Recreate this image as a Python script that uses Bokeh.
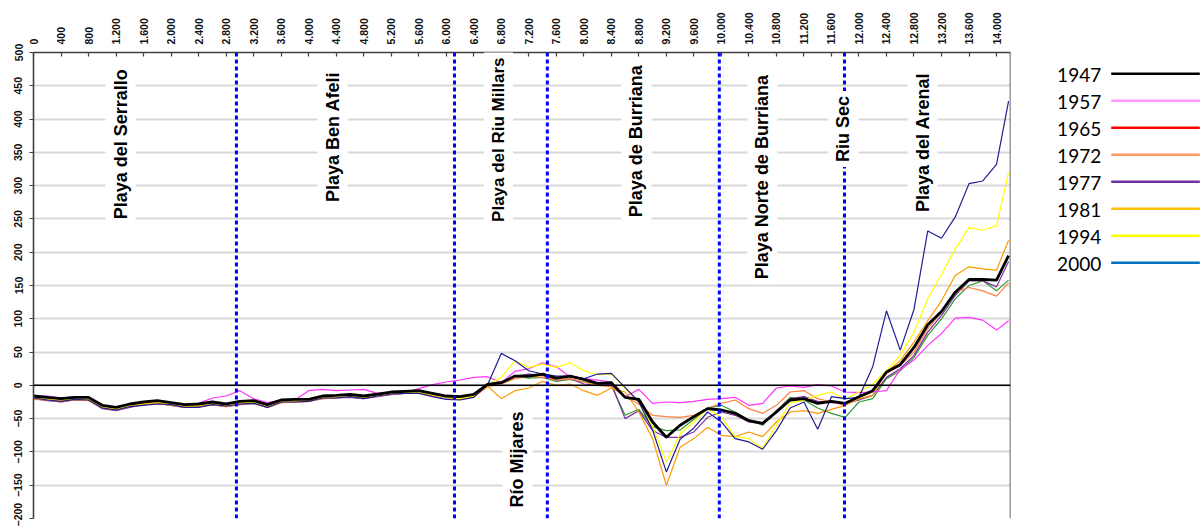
from bokeh.plotting import figure
from bokeh.models import Range1d, FixedTicker, Span, Label
from bokeh.layouts import row
from bokeh.embed import file_html
from bokeh.resources import INLINE
from bokeh.core.properties import value

# Distance along the coast (m) of each beach profile
dist = list(range(0, 14001, 200)) + [14175]

# Shoreline position change (m) per survey year
y1947 = [-16, -18, -20, -18, -18, -30, -33, -28, -25, -23, -26, -29, -28, -25, -28, -24, -23, -29, -22, -21,
         -21, -16, -15, -13.5, -16, -13, -10, -9, -8, -12,
         -16, -17, -13.5, 1.5, 4, 14, 14, 17, 11, 14, 9, 3, 4, -18,
         -21, -55, -78, -60, -47, -35, -37, -42, -53, -57, -40, -22, -20, -27, -24, -27, -17, -8,
         20, 31, 57, 91, 111, 140, 159, 159, 158, 195]
y1957 = [-16, -16, -19, -17, -20, -31, -34, -28, -26, -24, -27, -30, -27, -19, -16, -8, -20, -26, -22, -22,
         -8, -6, -8, -7, -6, -12, -11, -12, -5, 1,
         5, 8, 12, 13, 4, 21, 25, 34, 28, 13, 10, 8, 5, -17,
         -6, -27, -25, -26, -24, -21, -20, -18, -30, -27, -4, -1, -3, 1, -1, -10, -11, -10,
         -8, 24, 38, 60, 78, 101, 102, 98, 83, 97]
y1965 = [-20, -22, -24, -21, -22, -34, -36, -31, -28, -26, -29, -32, -32, -28, -31, -27, -26, -32, -25, -24,
         -23, -19, -18, -16, -19, -16, -12, -11, -11, -15,
         -18, -20, -16, 0, 4, 14, 11, 12, 6, 9, 5, 2, 0, -45,
         -36, -62, -68, -67, -51, -34, -30, -40, -52, -60, -38, -18, -22, -34, -42, -48, -25, -20,
         10, 22, 42, 75, 100, 130, 150, 157, 142, 158]
y1972 = [-21, -22, -25, -22, -23, -34, -37, -32, -29, -27, -30, -33, -32, -29, -32, -28, -27, -33, -26, -25,
         -24, -20, -19, -17, -19, -16, -13, -12, -11, -16,
         -18, -20, -17, -2, 2, 10, 14, 12, 8, 10, 5, 0, -2, -17,
         -28, -45, -47, -48, -45, -34, -27, -22, -35, -42, -30, -10, -8, -20, -25, -30, -18, -10,
         18, 30, 50, 85, 110, 140, 147, 142, 134, 154]
y1977 = [-20, -23, -25, -22, -22, -35, -38, -33, -29, -27, -30, -33, -32, -29, -32, -29, -27, -33, -26, -25,
         -24, -20, -19, -18, -20, -17, -14, -12, -11, -16,
         -19, -21, -17, 0, 3, 14, 17, 15, 8, 10, 2, 0, 2, -50,
         -38, -68, -78, -78, -70, -48, -40, -45, -55, -58, -38, -20, -17, -24, -26, -28, -22, -15,
         12, 25, 45, 80, 105, 135, 157, 157, 148, 186]
y1981 = [-19, -21, -23, -21, -21, -33, -36, -31, -28, -26, -29, -32, -31, -28, -31, -27, -26, -32, -25, -24,
         -23, -19, -18, -16, -19, -16, -13, -11, -10, -15,
         -18, -21, -17, -1, -20, -8, -4, 6, 0, 2, -8, -15, -4, -10,
         -40, -80, -150, -93, -80, -63, -75, -77, -70, -77, -55, -40, -38, -42, -36, -30, -20, -15,
         20, 37, 65, 97, 127, 165, 178, 175, 173, 218]
y1994 = [-18, -20, -22, -20, -20, -32, -35, -30, -27, -25, -28, -31, -30, -27, -30, -26, -25, -31, -24, -23,
         -23, -18, -17, -15, -18, -15, -12, -11, -10, -14,
         -18, -20, -16, 0, 12, 37, 27, 32, 27, 34, 22, 16, 17, -5,
         -25, -62, -115, -73, -55, -35, -48, -77, -80, -95, -60, -26, -23, -15, -10, -21, -10, 2,
         22, 45, 80, 130, 167, 205, 237, 233, 240, 320]
y2000 = [-19, -22, -24, -21, -22, -34, -37, -32, -30, -28, -29, -33, -33, -29, -31, -28, -27, -33, -25, -25,
         -24, -19, -19, -17, -20, -16, -13, -12, -12, -17,
         -21, -22, -18, 0.5, 48, 37, 22, 17, 14, 14, 10, 17, 18, -3,
         -25, -67, -130, -81, -64, -40, -55, -80, -85, -96, -68, -34, -25, -66, -17, -20, -18, 28,
         112, 53, 114, 232, 221, 253, 303, 307, 332, 427]

years = ["1947", "1957", "1965", "1972", "1977", "1981", "1994", "2000"]
series = {"1947": y1947, "1957": y1957, "1965": y1965, "1972": y1972,
          "1977": y1977, "1981": y1981, "1994": y1994, "2000": y2000}

# colours of the plotted profiles
line_colors = {"1947": "#000000", "1957": "#FF33FF", "1965": "#339933", "1972": "#FF7F3F",
               "1977": "#7F2F9F", "1981": "#FF9900", "1994": "#FFFF00", "2000": "#1F1F8F"}
# colours shown in the key
key_colors = ["#000000", "#FF99FF", "#FF0000", "#FF9966", "#7030A0", "#FFC000", "#FFFF00", "#0070C0"]

x_ticks = [0, 400, 800, 1200, 1600, 2000, 2400, 2800, 3200, 3600, 4000, 4400, 4800, 5200, 5600, 6000,
           6400, 6800, 7200, 7600, 8000, 8400, 8800, 9200, 9600, 10000, 10400, 10800, 11200, 11600,
           12000, 12400, 12800, 13200, 13600, 14000]
x_tick_labels = ["0", "400", "800", "1.200", "1.600", "2.000", "2.400", "2.800", "3.200", "3.600",
                 "4.000", "4.400", "4.800", "5.200", "5.600", "6.000", "6.400", "6.800", "7.200",
                 "7.600", "8.000", "8.400", "8.800", "9.200", "9.600", "10.000", "10.400", "10.800",
                 "11.200", "11.600", "12.000", "12.400", "12.800", "13.200", "13.600", "14.000"]
y_ticks = [-200, -150, -100, -50, 0, 50, 100, 150, 200, 250, 300, 350, 400, 450, 500]

# beach / river limits along the coast
boundaries = [2950, 6120, 7470, 9970, 11790]

# section names: text, x (m), bottom of the text (m), font size
sections = [
    ("Playa del Serrallo", 1265, 242, "18px"),
    ("Playa Ben Afeli", 4347, 268, "18px"),
    ("Playa del Riu  Millars", 6760, 238, "17px"),
    ("Playa de Burriana", 8766, 245, "18px"),
    ("Playa Norte de Burriana", 10597, 152, "18px"),
    ("Riu Sec", 11775, 328, "18px"),
    ("Playa del Arenal", 12924, 253, "18px"),
    ("Río Mijares", 7036, -191, "18px"),
]

FONT = "Liberation Sans"
TOP, FRAME_H, BOTTOM = 52, 466, 8

p = figure(frame_width=977, frame_height=FRAME_H,
           x_range=Range1d(0, 14203), y_range=Range1d(-200, 500),
           x_axis_location="above", output_backend="svg", toolbar_location=None,
           min_border_left=33, min_border_right=30, min_border_top=TOP, min_border_bottom=BOTTOM)
p.outline_line_color = None
p.background_fill_color = "white"
p.border_fill_color = "white"

# axes
p.xaxis.ticker = FixedTicker(ticks=x_ticks)
p.xaxis.major_label_overrides = dict(zip(x_ticks, x_tick_labels))
p.xaxis.major_label_orientation = "vertical"
p.xaxis.major_tick_in = 4
p.xaxis.major_tick_out = 0
p.xaxis.major_label_standoff = 8
p.yaxis.ticker = FixedTicker(ticks=y_ticks)
p.yaxis.major_label_orientation = "vertical"
p.yaxis.major_tick_in = 0
p.yaxis.major_tick_out = 4
p.yaxis.major_label_standoff = 7
for ax in (p.xaxis, p.yaxis):
    ax.minor_tick_line_color = None
    ax.axis_line_color = "#404040"
    ax.axis_line_width = 1.6
    ax.major_tick_line_color = "#404040"
    ax.major_tick_line_width = 1.2
    ax.major_label_text_font = FONT
    ax.major_label_text_font_style = "bold"
    ax.major_label_text_font_size = "10.5px"
    ax.major_label_text_color = "#111111"

p.xgrid.grid_line_color = None
p.ygrid.ticker = FixedTicker(ticks=y_ticks)
p.ygrid.grid_line_color = "#D9D9D9"
p.ygrid.grid_line_width = 2

# right frame edge and zero line
p.add_layout(Span(location=14203, dimension="height", line_color="#404040", line_width=1.6))
p.add_layout(Span(location=0, dimension="width", line_color="black", line_width=1.5))

# profile lines; 1947 drawn last and thicker
for yr in ["1965", "1977", "1972", "1981", "1957", "1994", "2000"]:
    p.line(dist, series[yr], line_color=line_colors[yr], line_width=1.2)
p.line(dist, series["1947"], line_color=line_colors["1947"], line_width=2.8)

# beach limits
for b in boundaries:
    p.add_layout(Span(location=b, dimension="height", line_color="#0000FF",
                      line_width=3, line_dash="4 3"))

# section names
for name, sx, sy, fs in sections:
    p.add_layout(Label(x=sx, y=sy, text=name, angle=1.5708,
                       text_align="left", text_baseline="middle",
                       text_font=FONT, text_font_style="bold", text_font_size=fs,
                       text_color="black", background_fill_color="white", padding=5))

# key: its frame lines up with the chart frame, so y is in page pixels
k = figure(frame_width=161, frame_height=FRAME_H,
           x_range=Range1d(0, 161), y_range=Range1d(TOP + FRAME_H, TOP),
           x_axis_type=None, y_axis_type=None, output_backend="svg", toolbar_location=None,
           min_border_left=0, min_border_right=0, min_border_top=TOP, min_border_bottom=BOTTOM)
k.outline_line_color = None
k.xgrid.grid_line_color = None
k.ygrid.grid_line_color = None
ky = [73.3 + 27 * i for i in range(len(years))]
k.text(x=[60.7] * len(years), y=[v + 1.5 for v in ky], text=years,
       text_align="right", text_baseline="middle",
       text_font=value("Lato"), text_font_size="19px", text_color="black")
k.segment(x0=[70.7] * len(years), y0=ky, x1=[159.3] * len(years), y1=ky,
          line_color=key_colors, line_width=2.5)

layout = row(p, k)
open("out.html", "w").write(file_html(layout, INLINE))
